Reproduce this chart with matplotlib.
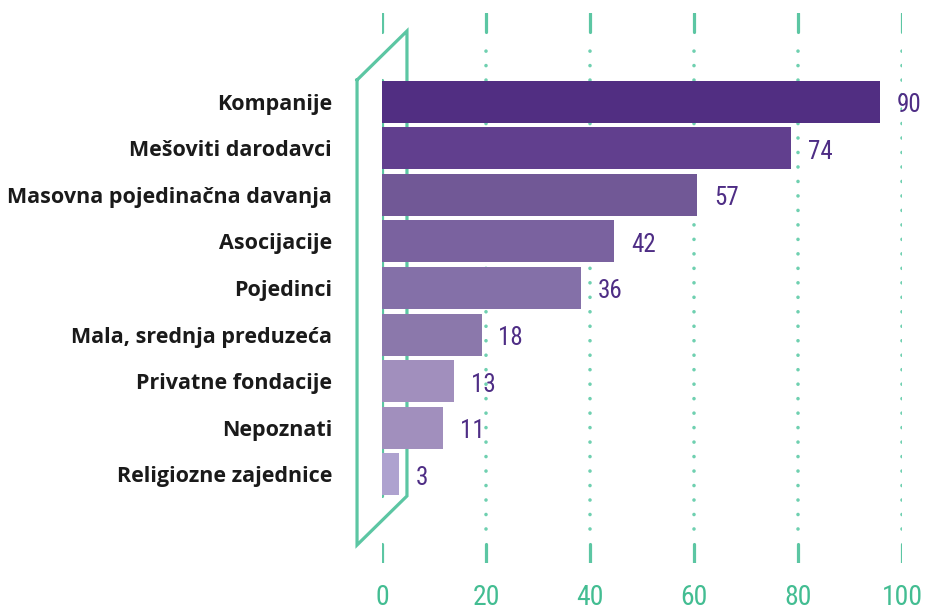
import matplotlib
matplotlib.use("Agg")
import matplotlib.pyplot as plt
import matplotlib.transforms as mtransforms
from matplotlib import font_manager

# data (top to bottom)
categories = ["Kompanije", "Mešoviti darodavci", "Masovna pojedinačna davanja",
              "Asocijacije", "Pojedinci", "Mala, srednja preduzeća",
              "Privatne fondacije", "Nepoznati", "Religiozne zajednice"]
values = [90, 74, 57, 42, 36, 18, 13, 11, 3]
bar_colors = ["#512E82", "#613F8E", "#715896", "#7A629F", "#8470A8",
              "#8B78AB", "#A18FBD", "#A18FBD", "#AEA2CF"]
tick_values = [0, 20, 40, 60, 80, 100]

TEAL = "#5CC6A3"
TEAL_TXT = "#43BD92"
PURPLE_TXT = "#4E2D85"

# pick a narrow face for the numbers if one is installed
installed = {f.name for f in font_manager.fontManager.ttflist}
narrow = next((n for n in ["Liberation Sans Narrow", "DejaVu Sans Condensed",
                           "Roboto Condensed", "Lato"] if n in installed), "DejaVu Sans")
is_narrow = narrow in ("Liberation Sans Narrow", "DejaVu Sans Condensed", "Roboto Condensed")
val_fs = 18 if is_narrow else 16
tick_fs = 20 if is_narrow else 18

W, H = 926, 610
fig = plt.figure(figsize=(W / 100, H / 100), dpi=100)
ax_l, ax_r, ax_t, ax_b = 382, 902, 13, 563
ax = fig.add_axes([ax_l / W, (H - ax_b) / H, (ax_r - ax_l) / W, (ax_b - ax_t) / H])
ax.set_xlim(0, 100)
ax.set_ylim(len(categories) - 1 + 1.9, -1.9)
for s in ax.spines.values():
    s.set_visible(False)

# bars are drawn on their own scale (the original draws them longer than the axis)
axb = ax.twiny()
axb.set_xlim(0, 94)
axb.axis("off")
ypos = list(range(len(categories)))
axb.barh(ypos, values, height=0.9, color=bar_colors, zorder=3)
for y, v in zip(ypos, values):
    axb.annotate(str(v), (v, y), xytext=(12, -2.5), textcoords="offset points",
                 ha="left", va="center", fontsize=val_fs, color=PURPLE_TXT,
                 family=narrow)

# ticks / labels
ax.set_xticks(tick_values)
ax.set_xticklabels([str(t) for t in tick_values], fontsize=tick_fs, color=TEAL_TXT,
                   family=narrow)
ax.tick_params(axis="x", length=0, pad=15)
ax.set_yticks(ypos)
ax.set_yticklabels(categories, fontsize=15.5, fontweight="bold", color="#1a1a1a",
                   family=["Open Sans", "DejaVu Sans"])
ax.tick_params(axis="y", length=0, pad=36)

# grid: dashes at top/bottom, dotted in between
h = ax_b - ax_t
dash = 19 / h
for t in tick_values:
    ax.axvline(t, ymin=1 - dash, ymax=1, color=TEAL, lw=2.3, solid_capstyle="round", zorder=1)
    ax.axvline(t, ymin=0, ymax=dash, color=TEAL, lw=2.3, solid_capstyle="round", zorder=1)
    if t == 0:
        ax.axvline(t, ymin=(ax_b - 496) / h, ymax=(ax_b - 80) / h, color=TEAL,
                   lw=2.3, solid_capstyle="round", zorder=2)
    else:
        ax.axvline(t, ymin=(ax_b - 529) / h, ymax=(ax_b - 37) / h, color="#6FD0B0",
                   lw=2.6, linestyle=(0, (0.01, 4.0)), dash_capstyle="round",
                   zorder=1)

# decorative parallelogram around the baseline
trans = mtransforms.blended_transform_factory(ax.transData, ax.transAxes)
px = [-4.8, 4.8, 4.8, -4.8, -4.8]
py = [(ax_b - 80) / h, (ax_b - 31) / h, (ax_b - 496) / h, (ax_b - 545) / h, (ax_b - 80) / h]
ax.plot(px, py, transform=trans, color=TEAL, lw=2.3, clip_on=False,
        solid_joinstyle="miter", zorder=2)

fig.savefig("out.png", dpi=100)
